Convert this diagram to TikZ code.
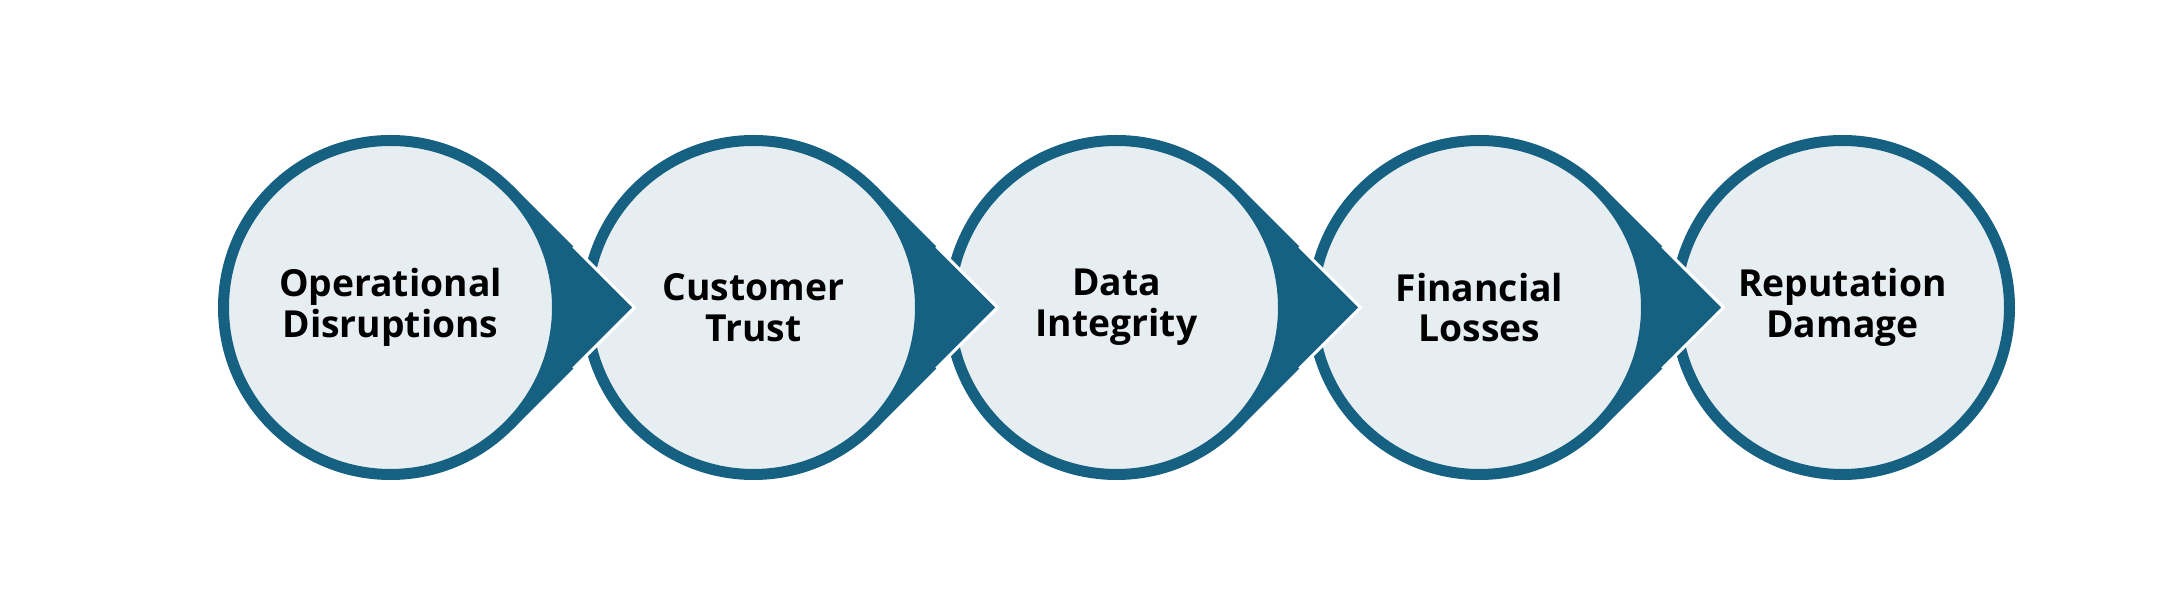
\documentclass[tikz,border=0pt]{standalone}
\usepackage{fontspec}
\setmainfont{Open Sans}
\usepackage{xcolor}
\usepackage{tikz}
\usetikzlibrary{positioning,calc}
\definecolor{riskblue}{RGB}{22,96,130}
\definecolor{riskfill}{RGB}{231,238,242}
\tikzset{
    impact/.style={circle, draw=riskblue, fill=riskfill, line width=0.11cm, minimum size=3.34cm, inner sep=0pt, align=center, text=black, font=\bfseries\fontsize{10.6}{11.6}\selectfont},
    pointer/.style={fill=riskblue},
    pointeredge/.style={draw=white, line width=0.03cm},
}

\begin{document}
\begin{tikzpicture}[node distance=0.18cm]
    \useasboundingbox (0,0) rectangle (21.61,6.15);
    \node[impact] (ops) at (3.905,3.075) {Operational\\Disruptions};
    \node[impact, right=of ops] (trust) {Customer\\Trust};
    \node[impact, right=of trust] (data) {Data\\Integrity};
    \node[impact, right=of data] (fin) {Financial\\Losses};
    \node[impact, right=of fin] (rep) {Reputation\\Damage};

    \foreach \s in {ops,trust,data,fin}{
        \coordinate (\s-tip) at ($(\s.center)!1.41421!(\s.east)$);
        \fill[pointer] (\s.45) -- (\s-tip) -- (\s.315) -- ($(\s.center)+(-45:1.67)$) arc[start angle=-45, end angle=45, radius=1.67cm] -- cycle;
        \draw[pointeredge] ($(\s.45)!0.5!(\s-tip)$) -- (\s-tip) -- ($(\s.315)!0.5!(\s-tip)$);
    }
\end{tikzpicture}
\end{document}
